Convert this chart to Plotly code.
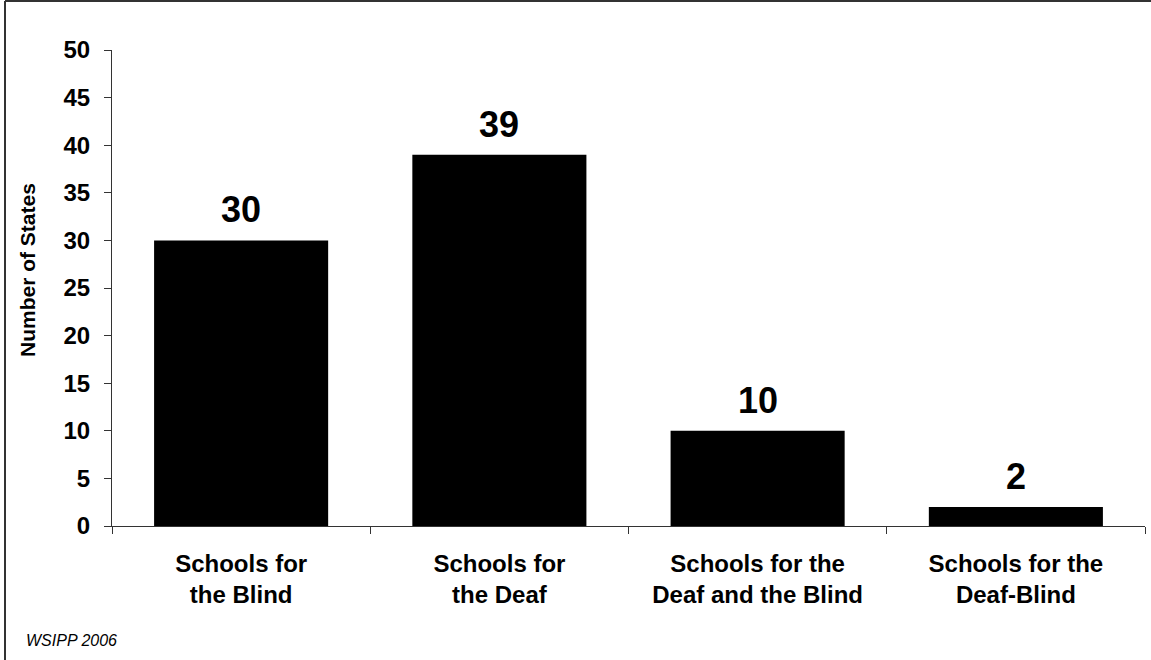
import plotly.graph_objects as go

categories = ["Schools for<br>the Blind", "Schools for<br>the Deaf",
              "Schools for the<br>Deaf and the Blind", "Schools for the<br>Deaf-Blind"]
values = [30, 39, 10, 2]
y_ticks = [0, 5, 10, 15, 20, 25, 30, 35, 40, 45, 50]

FONT = "Arial, Liberation Sans, sans-serif"
W, H = 1151, 660
ML, MR, MT, MB = 112, 6, 50, 134
PW, PH = W - ML - MR, H - MT - MB

fig = go.Figure()
fig.add_trace(go.Bar(
    x=categories, y=values,
    marker=dict(color="black", line=dict(width=0)),
    width=0.674,
    hoverinfo="skip",
))

for c, v in zip(categories, values):
    fig.add_annotation(x=c, y=v, text=f"<b>{v}</b>", showarrow=False,
                       yanchor="bottom", yshift=8,
                       font=dict(family=FONT, size=36, color="black"))

fig.add_annotation(xref="paper", yref="paper",
                   x=(24 - ML) / PW, y=(MT + PH - 640) / PH,
                   xanchor="left", yanchor="middle", showarrow=False,
                   text="<i>WSIPP 2006</i>",
                   font=dict(family=FONT, size=16, color="black"))

# y-axis title
fig.add_annotation(xref="paper", yref="paper",
                   x=(27 - ML) / PW, y=(MT + PH - 270) / PH,
                   xanchor="center", yanchor="middle", showarrow=False,
                   textangle=-90, text="<b>Number of States</b>",
                   font=dict(family=FONT, size=21, color="black"))

# figure border (top and left)
bx = (5 - ML) / PW
ty = 1 + (MT - 1) / PH
fig.add_shape(type="line", xref="paper", yref="paper", x0=bx, x1=(W - ML + 5) / PW, y0=ty, y1=ty,
              line=dict(color="#333333", width=2))
fig.add_shape(type="line", xref="paper", yref="paper", x0=bx, x1=bx, y0=ty, y1=-(MB + 5) / PH,
              line=dict(color="#333333", width=2))

fig.update_layout(
    width=W, height=H,
    margin=dict(l=ML, r=MR, t=MT, b=MB, autoexpand=False),
    paper_bgcolor="white", plot_bgcolor="white",
    showlegend=False,
    font=dict(family=FONT, color="black"),
    xaxis=dict(
        type="category", tickson="boundaries", ticks="outside", ticklen=7,
        tickcolor="#333333", tickwidth=1,
        showline=True, linecolor="#333333", linewidth=1,
        showgrid=False, zeroline=False,
        tickfont=dict(family=FONT, size=24, color="black", weight="bold"),
        ticklabelstandoff=16,
        range=[-0.5, 3.5],
    ),
    yaxis=dict(
        range=[0, 50], tickmode="array", tickvals=y_ticks,
        ticktext=[f"<b>{t}</b>" for t in y_ticks],
        ticks="outside", ticklen=7, tickcolor="#333333", tickwidth=1,
        showline=True, linecolor="#333333", linewidth=1,
        showgrid=False, zeroline=False,
        tickfont=dict(family=FONT, size=24, color="black"),
        ticklabelstandoff=9,
        automargin=False,
    ),
)

fig.write_html("out.html")
